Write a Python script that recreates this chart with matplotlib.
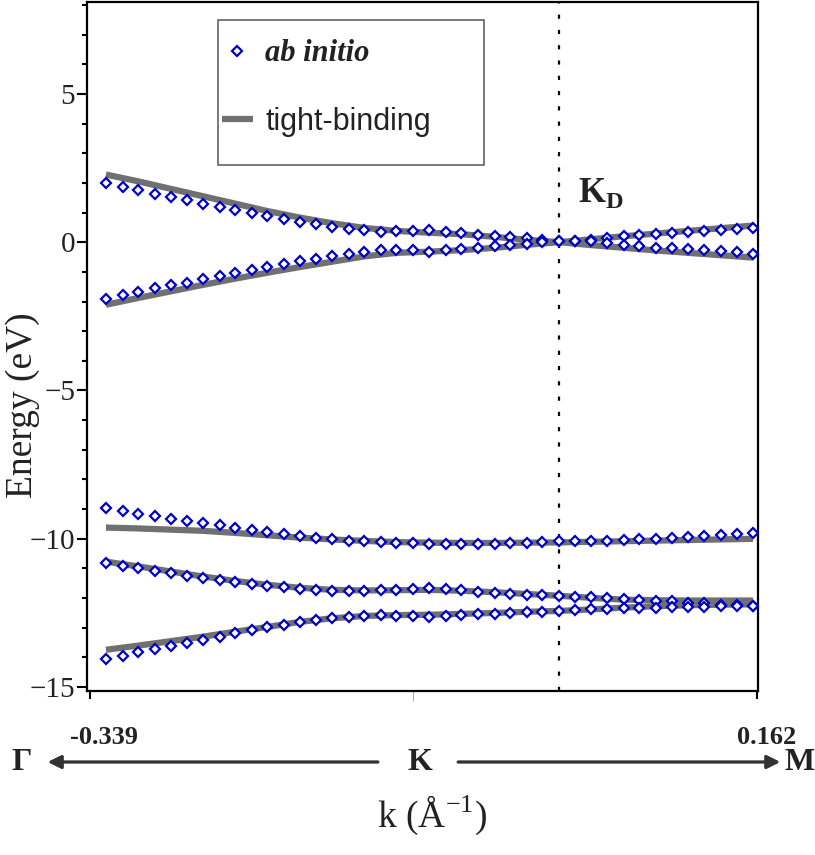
import matplotlib
matplotlib.use("Agg")

import matplotlib.pyplot as plt
from matplotlib.ticker import MultipleLocator
from matplotlib.patches import Rectangle
from matplotlib.font_manager import FontProperties

# k-path sample points (1/Angstrom), from -0.339 (towards Gamma) to 0.162 (towards M)
k = [-0.339, -0.326, -0.314, -0.301, -0.289, -0.276, -0.264, -0.251, -0.239, -0.226,
     -0.214, -0.201, -0.189, -0.176, -0.164, -0.151, -0.139, -0.126, -0.114, -0.101,
     -0.089, -0.076, -0.064, -0.051, -0.038, -0.026, -0.013, -0.001, 0.012, 0.024,
     0.037, 0.049, 0.062, 0.074, 0.087, 0.099, 0.112, 0.124, 0.137, 0.150, 0.162]
k_tb = k[::2]
k_dirac = 0.012

# ab initio bands (eV)
abi_c1 = [2.00, 1.87, 1.75, 1.64, 1.51, 1.41, 1.30, 1.20, 1.09, 0.98,
          0.87, 0.78, 0.69, 0.60, 0.52, 0.46, 0.40, 0.35, 0.36, 0.36,
          0.40, 0.34, 0.30, 0.25, 0.21, 0.16, 0.13, 0.08, 0.05, 0.05,
          0.08, 0.15, 0.20, 0.24, 0.29, 0.32, 0.34, 0.38, 0.41, 0.43, 0.47]
abi_v1 = [-1.90, -1.78, -1.68, -1.56, -1.46, -1.36, -1.23, -1.13, -1.03, -0.93,
          -0.83, -0.74, -0.65, -0.56, -0.48, -0.40, -0.32, -0.28, -0.27, -0.28,
          -0.32, -0.26, -0.23, -0.19, -0.14, -0.09, -0.05, -0.01, 0.03, 0.05,
          0.03, -0.04, -0.09, -0.13, -0.18, -0.21, -0.24, -0.28, -0.31, -0.34, -0.40]
abi_a = [-8.96, -9.06, -9.15, -9.22, -9.32, -9.39, -9.47, -9.54, -9.62, -9.70,
         -9.76, -9.83, -9.89, -9.96, -10.01, -10.06, -10.09, -10.11, -10.14, -10.15,
         -10.16, -10.16, -10.16, -10.16, -10.16, -10.15, -10.14, -10.11, -10.09, -10.09,
         -10.08, -10.06, -10.03, -10.01, -9.99, -9.97, -9.93, -9.91, -9.88, -9.84, -9.81]
abi_b = [-10.82, -10.92, -11.00, -11.08, -11.16, -11.24, -11.32, -11.38, -11.45, -11.52,
         -11.59, -11.63, -11.68, -11.72, -11.75, -11.76, -11.76, -11.74, -11.72, -11.70,
         -11.66, -11.70, -11.74, -11.78, -11.81, -11.85, -11.88, -11.90, -11.92, -11.95,
         -11.97, -12.00, -12.03, -12.06, -12.08, -12.11, -12.15, -12.18, -12.22, -12.24, -12.26]
abi_c = [-14.06, -13.94, -13.83, -13.72, -13.61, -13.50, -13.40, -13.30, -13.18, -13.09,
         -12.98, -12.89, -12.80, -12.73, -12.66, -12.62, -12.59, -12.57, -12.59, -12.60,
         -12.64, -12.60, -12.57, -12.54, -12.52, -12.50, -12.47, -12.45, -12.42, -12.39,
         -12.37, -12.35, -12.34, -12.33, -12.32, -12.30, -12.30, -12.30, -12.27, -12.26, -12.26]

# tight-binding bands (eV), every second k point
tb_c1 = [2.28, 2.05, 1.80, 1.55, 1.30, 1.05, 0.83, 0.64, 0.48, 0.38, 0.32,
         0.27, 0.18, 0.08, 0.00, 0.10, 0.20, 0.29, 0.38, 0.47, 0.56]
tb_v1 = [-2.11, -1.88, -1.66, -1.44, -1.23, -1.03, -0.84, -0.66, -0.48, -0.36, -0.32,
         -0.27, -0.19, -0.09, 0.00, -0.10, -0.19, -0.28, -0.36, -0.44, -0.52]
tb_a = [-9.62, -9.65, -9.69, -9.73, -9.80, -9.88, -9.96, -10.02, -10.07, -10.11, -10.13,
        -10.14, -10.14, -10.13, -10.12, -10.10, -10.08, -10.06, -10.04, -10.02, -10.00]
tb_b = [-10.77, -10.93, -11.10, -11.27, -11.42, -11.55, -11.65, -11.72, -11.74, -11.73, -11.72,
        -11.75, -11.80, -11.86, -11.92, -11.99, -12.05, -12.07, -12.08, -12.08, -12.08]
tb_c = [-13.74, -13.60, -13.45, -13.30, -13.13, -12.97, -12.80, -12.68, -12.60, -12.57, -12.56,
        -12.53, -12.50, -12.46, -12.43, -12.38, -12.32, -12.27, -12.24, -12.22, -12.21]

abi_bands = [abi_c1, abi_v1, abi_a, abi_b, abi_c]
tb_bands = [tb_c1, tb_v1, tb_a, tb_b, tb_c]

plt.rcParams['font.family'] = ['Liberation Serif', 'DejaVu Serif']
plt.rcParams['mathtext.fontset'] = 'custom'
plt.rcParams['mathtext.rm'] = 'Liberation Serif'
plt.rcParams['mathtext.bf'] = 'Liberation Serif:bold'
plt.rcParams['lines.scale_dashes'] = False

txt = '#222222'
blue = '#0000c8'
grey = '#707070'

fig = plt.figure(figsize=(8.15, 8.55), dpi=100)
ax = fig.add_axes([0.1067, 0.1918, 0.8233, 0.806])

for i, band in enumerate(tb_bands):
    ax.plot(k_tb, band, '-', color=grey, lw=4.5, solid_capstyle='butt', zorder=2,
            label='tight-binding' if i == 0 else None)
for i, band in enumerate(abi_bands):
    ax.plot(k, band, 'D', ms=5, mew=1.6, mec=blue, mfc='white', zorder=3,
            label='ab initio' if i == 0 else None)

ax.axvline(k_dirac, color='black', lw=1.6, linestyle=(0, (3, 8)), zorder=1)

ax.set_xlim(-0.3537, 0.1659)
ax.set_ylim(-15.13, 8.1)

ax.yaxis.set_major_locator(MultipleLocator(5))
ax.yaxis.set_minor_locator(MultipleLocator(1))
ax.tick_params(axis='y', which='major', direction='out', length=7, width=1.5,
               labelsize=21, pad=1.5, colors='black', labelcolor=txt)
ax.tick_params(axis='y', which='minor', direction='out', length=3.5, width=1.5, colors='black')

ax.set_xticks([-0.351, 0.165])
ax.set_xticklabels([])
ax.set_xticks([-0.101], minor=True)
ax.tick_params(axis='x', which='major', direction='out', length=6, width=1.5)
ax.tick_params(axis='x', which='minor', direction='out', length=7, width=0.8, color='#b0b0b0')

for s in ax.spines.values():
    s.set_linewidth(1.6)

# legend box
ax.add_patch(Rectangle((0.195, 0.7634), 0.3964, 0.2104, transform=ax.transAxes,
                       facecolor='white', edgecolor='#555555', lw=1.1, zorder=4))
handles, labels = ax.get_legend_handles_labels()
order = [1, 0]
leg = ax.legend([handles[i] for i in order], [labels[i] for i in order],
                loc='upper left', bbox_to_anchor=(0.2012, 0.9455), frameon=False,
                fontsize=22, handlelength=1.0, handletextpad=0.42, labelspacing=1.25,
                borderpad=0, borderaxespad=0, numpoints=1)
leg.set_zorder(5)
leg.get_texts()[0].set_fontproperties(FontProperties(family='Liberation Serif', weight='bold',
                                                     style='italic', size=22))
leg.get_texts()[1].set_fontproperties(FontProperties(family='Liberation Sans', size=22))
for t in leg.get_texts():
    t.set_color(txt)

# K_D label
fig.text(578 / 815, 1 - 202 / 855, r'$\mathbf{K}_{\mathbf{D}}$', fontsize=25, color=txt,
         ha='left', va='baseline')

# k-path annotation below the axis
row_y = 1 - 762 / 855
fig.text(22 / 815, row_y, 'Γ', fontsize=23, fontweight='bold', color=txt, ha='center', va='center')
fig.text(420 / 815, row_y, 'K', fontsize=23, fontweight='bold', color=txt, ha='center', va='center')
fig.text(800 / 815, row_y, 'M', fontsize=23, fontweight='bold', color=txt, ha='center', va='center')
arrow = dict(arrowstyle='-|>', lw=2, color='#333333', mutation_scale=20, shrinkA=0, shrinkB=0)
fig.add_artist(plt.annotate('', xy=(48 / 815, row_y), xytext=(378 / 815, row_y),
                            xycoords='figure fraction', arrowprops=arrow, annotation_clip=False))
fig.add_artist(plt.annotate('', xy=(780 / 815, row_y), xytext=(458 / 815, row_y),
                            xycoords='figure fraction', arrowprops=arrow, annotation_clip=False))
fig.text(104 / 815, 1 - 737 / 855, str(k[0]), fontsize=19, fontweight='bold', color=txt,
         ha='center', va='center')
fig.text(767 / 815, 1 - 737 / 855, str(k[-1]), fontsize=19, fontweight='bold', color=txt,
         ha='center', va='center')

fig.text(432 / 815, 1 - 815 / 855, r'k (Å$^{\mathregular{-1}}$)', fontsize=27, color=txt,
         ha='center', va='center')
fig.text(23 / 815, 1 - 405 / 855, 'Energy (eV)', fontsize=27, color=txt, rotation=90,
         ha='center', va='center')

fig.savefig('out.png', dpi=100)
